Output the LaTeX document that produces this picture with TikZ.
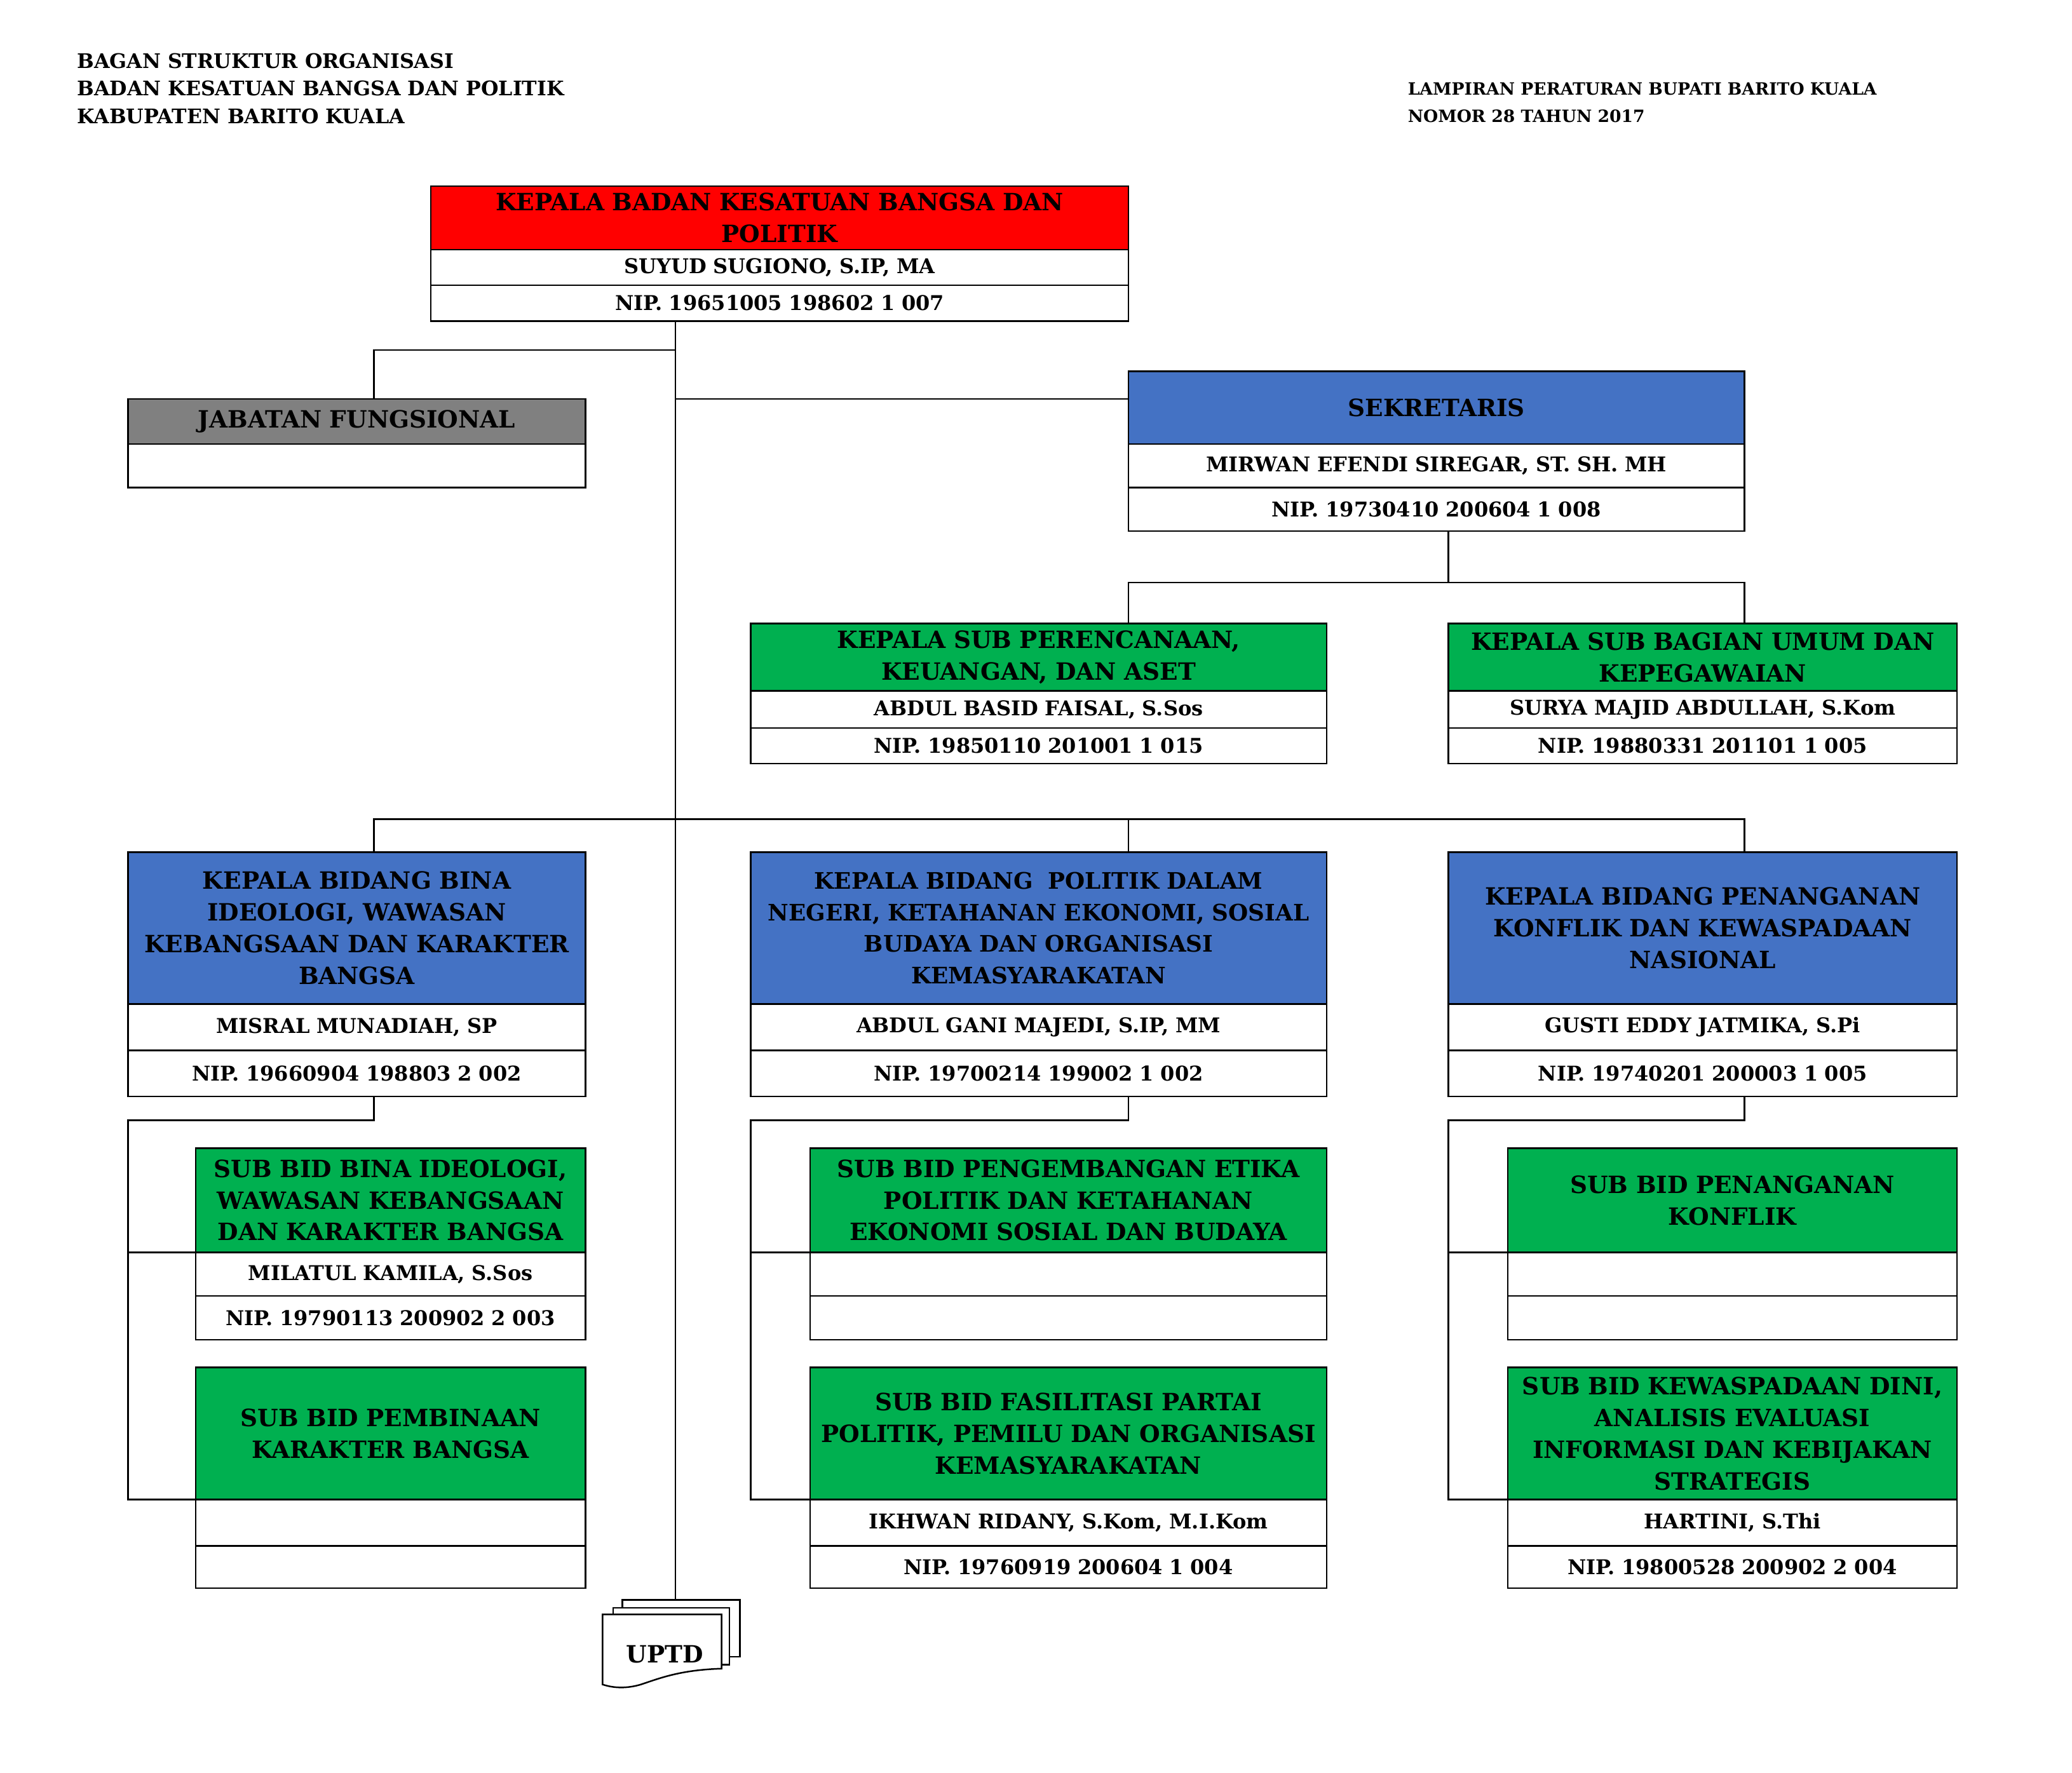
\documentclass[tikz,border=0pt]{standalone}
\usepackage{fontspec}
\setmainfont{DejaVu Serif}
\definecolor{cred}{HTML}{FF0000}
\definecolor{cgrey}{HTML}{808080}
\definecolor{cblue}{HTML}{4472C4}
\definecolor{cgreen}{HTML}{00B050}
\newcommand\mycell[8]{%
 \pgfmathsetmacro\cw{(#3-#2)*0.5}%
 \pgfmathsetmacro\ch{(#5-#4)*0.5}%
 \pgfmathsetmacro\tw{(#3-#2)*0.5-2}%
 \node[cell,fill=#6,minimum width=\cw pt,minimum height=\ch pt,text width=\tw pt,font=#7] (#1) at ({(#2+#3)/2},{(#4+#5)/2}) {#8};}
\begin{document}
\begin{tikzpicture}[x=0.5pt,y=-0.5pt,
 cell/.style={draw=black,line width=0.6pt,inner sep=0pt,align=center},
 ln/.style={line width=0.6pt},
 tt/.style={anchor=west,inner sep=0pt}]
\useasboundingbox (0,0) rectangle (1568,1342);
\def\hf{\bfseries\fontsize{9}{12}\selectfont}
\def\hfs{\bfseries\fontsize{8.6}{12}\selectfont}
\def\rf{\bfseries\fontsize{7.7}{9}\selectfont}
\def\tf{\bfseries\fontsize{7.6}{10.5}\selectfont}
\def\sf{\bfseries\fontsize{6.4}{9}\selectfont}
% titles
\node[tt,font=\tf] (t1) at (58,46) {BAGAN STRUKTUR ORGANISASI};
\node[tt,font=\tf] (t2) at (58,67) {BADAN KESATUAN BANGSA DAN POLITIK};
\node[tt,font=\tf] (t3) at (58,88) {KABUPATEN BARITO KUALA};
\node[tt,font=\sf] (t4) at (1065,67) {LAMPIRAN PERATURAN BUPATI BARITO KUALA};
\node[tt,font=\sf] (t5) at (1065,88) {NOMOR 28 TAHUN 2017};
% connectors
\draw[ln] (511,243) -- (511,1211);
\draw[ln] (511,265) -- (283,265) -- (283,302);
\draw[ln] (511,302) -- (854,302);
\draw[ln] (1096,402) -- (1096,441);
\draw[ln] (854,472) -- (854,441) -- (1320,441) -- (1320,472);
\draw[ln] (283,645) -- (283,620) -- (1320,620) -- (1320,645);
\draw[ln] (854,620) -- (854,645);
\draw[ln] (283,830) -- (283,848) -- (97,848) -- (97,1135) -- (148,1135);
\draw[ln] (97,948) -- (148,948);
\draw[ln] (854,830) -- (854,848) -- (568,848) -- (568,1135) -- (613,1135);
\draw[ln] (568,948) -- (613,948);
\draw[ln] (1320,830) -- (1320,848) -- (1096,848) -- (1096,1135) -- (1141,1135);
\draw[ln] (1096,948) -- (1141,948);
% kepala
\mycell{k}{326}{854}{141}{189}{cred}{\hf}{KEPALA BADAN KESATUAN BANGSA DAN\\POLITIK}
\mycell{kn}{326}{854}{189}{216}{white}{\rf}{SUYUD SUGIONO, S.IP, MA}
\mycell{kp}{326}{854}{216}{243}{white}{\rf}{NIP. 19651005 198602 1 007}
% jabatan
\mycell{j}{97}{443}{302}{336}{cgrey}{\hf}{JABATAN FUNGSIONAL}
\mycell{jn}{97}{443}{336}{369}{white}{\rf}{}
% sekretaris
\mycell{s}{854}{1320}{281}{336}{cblue}{\hf}{SEKRETARIS}
\mycell{sn}{854}{1320}{336}{369}{white}{\rf}{MIRWAN EFENDI SIREGAR, ST. SH. MH}
\mycell{sp}{854}{1320}{369}{402}{white}{\rf}{NIP. 19730410 200604 1 008}
% subbag
\mycell{p}{568}{1004}{472}{523}{cgreen}{\hf}{KEPALA SUB PERENCANAAN,\\KEUANGAN, DAN ASET}
\mycell{pn}{568}{1004}{523}{551}{white}{\rf}{ABDUL BASID FAISAL, S.Sos}
\mycell{pp}{568}{1004}{551}{578}{white}{\rf}{NIP. 19850110 201001 1 015}
\mycell{u}{1096}{1481}{472}{523}{cgreen}{\hf}{KEPALA SUB BAGIAN UMUM DAN\\KEPEGAWAIAN}
\mycell{un}{1096}{1481}{523}{551}{white}{\rf}{SURYA MAJID ABDULLAH, S.Kom}
\mycell{up}{1096}{1481}{551}{578}{white}{\rf}{NIP. 19880331 201101 1 005}
% bidang
\mycell{b1}{97}{443}{645}{760}{cblue}{\hf}{KEPALA BIDANG BINA\\IDEOLOGI, WAWASAN\\KEBANGSAAN DAN KARAKTER\\BANGSA}
\mycell{b1n}{97}{443}{760}{795}{white}{\rf}{MISRAL MUNADIAH, SP}
\mycell{b1p}{97}{443}{795}{830}{white}{\rf}{NIP. 19660904 198803 2 002}
\mycell{b2}{568}{1004}{645}{760}{cblue}{\hfs}{KEPALA BIDANG\ \ POLITIK DALAM\\NEGERI, KETAHANAN EKONOMI, SOSIAL\\BUDAYA DAN ORGANISASI\\KEMASYARAKATAN}
\mycell{b2n}{568}{1004}{760}{795}{white}{\rf}{ABDUL GANI MAJEDI, S.IP, MM}
\mycell{b2p}{568}{1004}{795}{830}{white}{\rf}{NIP. 19700214 199002 1 002}
\mycell{b3}{1096}{1481}{645}{760}{cblue}{\hf}{KEPALA BIDANG PENANGANAN\\KONFLIK DAN KEWASPADAAN\\NASIONAL}
\mycell{b3n}{1096}{1481}{760}{795}{white}{\rf}{GUSTI EDDY JATMIKA, S.Pi}
\mycell{b3p}{1096}{1481}{795}{830}{white}{\rf}{NIP. 19740201 200003 1 005}
% sub bidang 1
\mycell{a1}{148}{443}{869}{948}{cgreen}{\hf}{SUB BID BINA IDEOLOGI,\\WAWASAN KEBANGSAAN\\DAN KARAKTER BANGSA}
\mycell{a1n}{148}{443}{948}{981}{white}{\rf}{MILATUL KAMILA, S.Sos}
\mycell{a1p}{148}{443}{981}{1014}{white}{\rf}{NIP. 19790113 200902 2 003}
\mycell{c1}{148}{443}{1035}{1135}{cgreen}{\hf}{SUB BID PEMBINAAN\\KARAKTER BANGSA}
\mycell{c1n}{148}{443}{1135}{1170}{white}{\rf}{}
\mycell{c1p}{148}{443}{1170}{1202}{white}{\rf}{}
% sub bidang 2
\mycell{a2}{613}{1004}{869}{948}{cgreen}{\hf}{SUB BID PENGEMBANGAN ETIKA\\POLITIK DAN KETAHANAN\\EKONOMI SOSIAL DAN BUDAYA}
\mycell{a2n}{613}{1004}{948}{981}{white}{\rf}{}
\mycell{a2p}{613}{1004}{981}{1014}{white}{\rf}{}
\mycell{c2}{613}{1004}{1035}{1135}{cgreen}{\hf}{SUB BID FASILITASI PARTAI\\POLITIK, PEMILU DAN ORGANISASI\\KEMASYARAKATAN}
\mycell{c2n}{613}{1004}{1135}{1170}{white}{\rf}{IKHWAN RIDANY, S.Kom, M.I.Kom}
\mycell{c2p}{613}{1004}{1170}{1202}{white}{\rf}{NIP. 19760919 200604 1 004}
% sub bidang 3
\mycell{a3}{1141}{1481}{869}{948}{cgreen}{\hf}{SUB BID PENANGANAN\\KONFLIK\\[8pt]}
\mycell{a3n}{1141}{1481}{948}{981}{white}{\rf}{}
\mycell{a3p}{1141}{1481}{981}{1014}{white}{\rf}{}
\mycell{c3}{1141}{1481}{1035}{1135}{cgreen}{\hf}{SUB BID KEWASPADAAN DINI,\\ANALISIS EVALUASI\\INFORMASI DAN KEBIJAKAN\\STRATEGIS}
\mycell{c3n}{1141}{1481}{1135}{1170}{white}{\rf}{HARTINI, S.Thi}
\mycell{c3p}{1141}{1481}{1170}{1202}{white}{\rf}{NIP. 19800528 200902 2 004}
% UPTD
\draw[ln,fill=white] (471,1211) -- (560,1211) -- (560,1254) -- (471,1254) -- cycle;
\draw[ln,fill=white] (464,1217) -- (552,1217) -- (552,1260) -- (464,1260) -- cycle;
\draw[ln,fill=white] (456,1222) -- (546,1222) -- (546,1263) .. controls (515,1264) and (500,1270) .. (485,1275) .. controls (475,1278) and (465,1278) .. (456,1275) -- cycle;
\node[font=\rmfamily\bfseries\fontsize{9}{10}\selectfont] (uptd) at (503,1252) {UPTD};
\end{tikzpicture}
\end{document}
